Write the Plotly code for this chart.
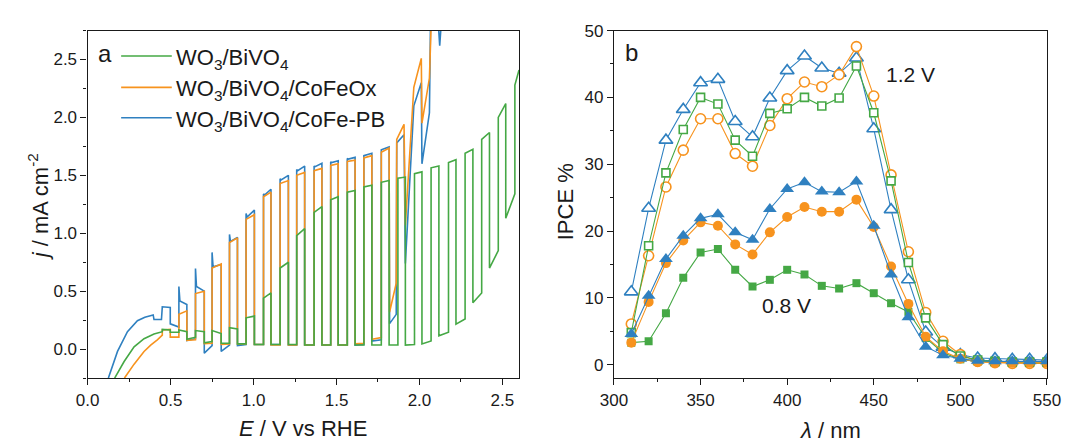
import plotly.graph_objects as go

W, H = 1077, 444

# ---------------- Panel a : chopped LSV ----------------
chop_on = [0.45, 0.55, 0.65, 0.75, 0.855, 0.955, 1.06, 1.16, 1.26, 1.365, 1.465,
           1.565, 1.665, 1.77, 1.87, 1.97, 2.07, 2.175, 2.275, 2.375, 2.475, 2.575]
chop_off = [0.498, 0.598, 0.703, 0.805, 0.903, 1.005, 1.105, 1.21, 1.308, 1.412, 1.51,
            1.612, 1.713, 1.817, 1.915, 2.015, 2.117, 2.22, 2.322, 2.422, 2.52, 2.60]

# WO3/BiVO4
bv_onset_E = [0.163, 0.22, 0.28, 0.34, 0.40, 0.45]
bv_onset_j = [-0.25, -0.107, 0.02, 0.09, 0.13, 0.15]
bv_peak = [0.17, 0.165, 0.16, 0.16, 0.185, 0.27, 0.44, 0.70, 0.98, 1.18, 1.29,
           1.355, 1.40, 1.44, 1.475, 1.515, 1.565, 1.61, 1.69, 1.81, 2.00, 2.28]
bv_light_start = bv_peak
bv_light_end = [0.165, 0.15, 0.15, 0.135, 0.175, 0.285, 0.485, 0.75, 1.04, 1.23, 1.315,
                1.37, 1.415, 1.455, 1.485, 1.53, 1.58, 1.635, 1.725, 1.87, 2.12, 2.41]
bv_dark_start = [0.146, 0.085, 0.055, 0.05, 0.045, 0.04, 0.04, 0.04, 0.035, 0.035, 0.035,
                 0.035, 0.035, 0.035, 0.035, 0.045, 0.115, 0.215, 0.40, 0.70, 1.13]
bv_dark_end = [0.146, 0.103, 0.066, 0.05, 0.045, 0.04, 0.04, 0.04, 0.035, 0.035, 0.035,
               0.035, 0.035, 0.035, 0.04, 0.07, 0.145, 0.26, 0.485, 0.85, 1.34]
bv_tail_E = []
bv_tail_j = []

# WO3/BiVO4/CoFeOx
ox_onset_E = [0.222, 0.28, 0.34, 0.38, 0.42, 0.45]
ox_onset_j = [-0.25, -0.13, -0.02, 0.035, 0.08, 0.12]
ox_peak = [0.165, 0.30, 0.48, 0.70, 0.92, 1.12, 1.315, 1.43, 1.50, 1.54, 1.585, 1.62, 1.65, 1.70]
ox_light_start = ox_peak
ox_light_end = [0.17, 0.33, 0.50, 0.735, 0.96, 1.16, 1.355, 1.455, 1.525, 1.56, 1.60, 1.63, 1.67, 1.735]
ox_dark_start = [0.103, 0.075, 0.047, 0.04, 0.045, 0.04, 0.035, 0.035, 0.035, 0.035, 0.035, 0.045, 0.085]
ox_dark_end = [0.103, 0.08, 0.05, 0.045, 0.045, 0.04, 0.035, 0.035, 0.035, 0.035, 0.035, 0.05, 0.10]
ox_tail_E = [1.82, 1.86, 1.863, 1.907, 1.915, 1.966, 2.011, 2.015, 2.06, 2.075]
ox_tail_j = [0.32, 0.57, 1.81, 1.94, 1.07, 2.26, 2.51, 1.95, 2.34, 3.0]

# WO3/BiVO4/CoFe-PB
pb_onset_E = [0.125, 0.18, 0.24, 0.30, 0.345, 0.395, 0.40, 0.445]
pb_onset_j = [-0.25, -0.02, 0.15, 0.245, 0.275, 0.295, 0.255, 0.255]
pb_peak = [0.365, 0.54, 0.695, 0.835, 0.99, 1.17, 1.34, 1.47, 1.55, 1.58, 1.617, 1.645, 1.67, 1.72]
pb_light_start = [0.365, 0.416, 0.54, 0.71, 0.93, 1.14, 1.33, 1.46, 1.54, 1.575, 1.61, 1.64, 1.67, 1.72]
pb_light_end = [0.36, 0.385, 0.50, 0.73, 0.965, 1.20, 1.38, 1.50, 1.58, 1.605, 1.626, 1.655, 1.69, 1.745]
pb_dark_start = [0.218, 0.075, -0.035, -0.02, 0.03, 0.04, 0.04, 0.035, 0.035, 0.035, 0.035, 0.035, 0.07]
pb_dark_end = [0.19, 0.09, 0.03, 0.035, 0.04, 0.04, 0.04, 0.035, 0.035, 0.035, 0.035, 0.04, 0.08]
pb_tail_E = [1.82, 1.86, 1.863, 1.907, 1.915, 1.966, 2.011, 2.015, 2.06, 2.068, 2.10, 2.122, 2.145]
pb_tail_j = [0.22, 0.30, 1.78, 1.85, 0.74, 2.10, 2.30, 1.60, 2.04, 3.0, 3.1, 2.62, 3.1]

# ---------------- Panel b : IPCE ----------------
wavelength = [310, 320, 330, 340, 350, 360, 370, 380, 390, 400, 410, 420, 430,
              440, 450, 460, 470, 480, 490, 500, 510, 520, 530, 540, 550]
pb_12 = [10.9, 23.4, 33.6, 38.2, 42.2, 42.7, 36.4, 34.1, 39.9, 44.0, 46.2, 44.4, 43.6,
         45.9, 35.3, 23.2, 12.7, 4.9, 2.6, 1.5, 1.0, 0.9, 0.8, 0.8, 0.7]
ox_12 = [6.1, 16.3, 26.6, 32.1, 36.8, 36.8, 31.6, 29.7, 35.8, 39.8, 42.3, 41.6, 43.4,
         47.6, 40.2, 28.4, 16.9, 7.8, 3.5, 1.5, 0.5, 0.3, 0.2, 0.2, 0.2]
bv_12 = [4.8, 17.8, 28.7, 35.2, 40.0, 39.0, 33.6, 31.2, 37.6, 38.3, 40.0, 38.7, 39.9,
         44.7, 37.7, 27.5, 15.3, 7.0, 3.0, 1.3, 0.7, 0.5, 0.4, 0.4, 0.4]
pb_08 = [4.6, 10.3, 15.8, 19.3, 21.9, 22.5, 19.8, 18.7, 23.3, 26.3, 27.3, 25.9, 25.8,
         27.4, 20.8, 13.5, 7.1, 2.7, 1.4, 0.9, 0.6, 0.5, 0.5, 0.5, 0.5]
ox_08 = [3.3, 9.4, 15.2, 18.6, 21.3, 20.8, 18.0, 16.5, 19.8, 22.1, 23.6, 22.9, 22.9,
         24.7, 20.6, 14.7, 9.1, 4.2, 2.0, 0.9, 0.4, 0.3, 0.3, 0.3, 0.3]
bv_08 = [3.3, 3.5, 7.7, 13.0, 16.8, 17.3, 14.2, 11.7, 12.7, 14.2, 13.5, 11.8, 11.4,
         12.2, 10.7, 9.2, 7.9, 4.0, 1.8, 0.8, 0.5, 0.4, 0.4, 0.3, 0.3]

legend_names = ["WO<sub>3</sub>/BiVO<sub>4</sub>",
                "WO<sub>3</sub>/BiVO<sub>4</sub>/CoFeOx",
                "WO<sub>3</sub>/BiVO<sub>4</sub>/CoFe-PB"]

GREEN = "#45a845"
ORANGE = "#f7931e"
BLUE = "#2f80c0"
FONT = "Liberation Sans, Arial, sans-serif"
INK = "#1a1a1a"


def build(onset_E, onset_j, peak, ls, le, ds, de, tail_E, tail_j):
    E = list(onset_E)
    J = list(onset_j)
    for k in range(len(ls)):
        if k > 0:
            E.append(chop_on[k]); J.append(de[k - 1])
        E.append(chop_on[k]); J.append(peak[k])
        if peak[k] != ls[k]:
            E.append(chop_on[k] + 0.006); J.append(ls[k])
        E.append(chop_off[k]); J.append(le[k])
        if k < len(ds):
            E.append(chop_off[k]); J.append(ds[k])
    E += tail_E
    J += tail_j
    return E, J


fig = go.Figure()

pbE, pbJ = build(pb_onset_E, pb_onset_j, pb_peak, pb_light_start, pb_light_end,
                 pb_dark_start, pb_dark_end, pb_tail_E, pb_tail_j)
oxE, oxJ = build(ox_onset_E, ox_onset_j, ox_peak, ox_light_start, ox_light_end,
                 ox_dark_start, ox_dark_end, ox_tail_E, ox_tail_j)
bvE, bvJ = build(bv_onset_E, bv_onset_j, bv_peak, bv_light_start, bv_light_end,
                 bv_dark_start, bv_dark_end, bv_tail_E, bv_tail_j)

for E, J, c, nm in [(pbE, pbJ, BLUE, legend_names[2]),
                    (oxE, oxJ, ORANGE, legend_names[1]),
                    (bvE, bvJ, GREEN, legend_names[0])]:
    fig.add_trace(go.Scatter(x=E, y=J, mode="lines", name=nm,
                             line=dict(color=c, width=1.6),
                             xaxis="x", yaxis="y", showlegend=False))

# IPCE traces
ipce = [
    (pb_12, BLUE, "triangle-up", 12, True, "CoFe-PB 1.2 V"),
    (ox_12, ORANGE, "circle", 10, True, "CoFeOx 1.2 V"),
    (bv_12, GREEN, "square", 8, True, "WO3/BiVO4 1.2 V"),
    (bv_08, GREEN, "square", 8, False, "WO3/BiVO4 0.8 V"),
    (ox_08, ORANGE, "circle", 10, False, "CoFeOx 0.8 V"),
    (pb_08, BLUE, "triangle-up", 12, False, "CoFe-PB 0.8 V"),
]
for vals, c, sym, sz, hollow, nm in ipce:
    fig.add_trace(go.Scatter(
        x=wavelength, y=vals, mode="lines+markers", name=nm,
        line=dict(color=c, width=1.1),
        marker=dict(symbol=sym, size=sz,
                    color="white" if hollow else c,
                    line=dict(color=c, width=1.6 if hollow else 0)),
        xaxis="x2", yaxis="y2", showlegend=False))


def px(x):
    return x / W


def py(y):
    return 1 - y / H


axis_common = dict(showline=True, mirror=True, linecolor=INK, linewidth=1.3,
                   ticks="outside", ticklen=6, tickwidth=1.3, tickcolor=INK,
                   showgrid=False, zeroline=False,
                   tickfont=dict(family=FONT, size=17, color=INK))
minor_common = dict(ticklen=3, tickwidth=1.2, tickcolor=INK, ticks="outside")

fig.update_layout(
    width=W, height=H, margin=dict(l=0, r=0, t=0, b=0),
    paper_bgcolor="white", plot_bgcolor="white",
    xaxis=dict(domain=[px(75.6), px(518.5)], range=[0, 2.6], dtick=0.5, tick0=0,
               tickformat=".1f", anchor="y", minor=dict(dtick=0.25, **minor_common),
               **axis_common),
    yaxis=dict(domain=[py(376.7), py(22)], range=[-0.25, 2.75], dtick=0.5, tick0=0,
               tickformat=".1f", anchor="x", minor=dict(dtick=0.25, **minor_common),
               **axis_common),
    xaxis2=dict(domain=[px(616), px(1060.5)], range=[300, 550], dtick=50, tick0=300,
                anchor="y2", minor=dict(dtick=25, **minor_common),
                **axis_common),
    yaxis2=dict(domain=[py(376.7), py(22)], range=[-2, 50], dtick=10, tick0=0,
                anchor="x2", minor=dict(dtick=5, **minor_common),
                **axis_common),
    showlegend=False,
)

annotations = [
    dict(x=px(297), y=py(428), text="<i>E</i> / V vs RHE", font=dict(size=22)),
    dict(x=px(25), y=py(202), text="<i>j</i> / mA cm<sup>-2</sup>", textangle=-90,
         font=dict(size=22)),
    dict(x=px(838), y=py(430), text="<i>λ</i> / nm", font=dict(size=22)),
    dict(x=px(566), y=py(197), text="IPCE %", textangle=-90, font=dict(size=22)),
    dict(x=px(93), y=py(45), text="a", font=dict(size=24)),
    dict(x=px(634), y=py(44), text="b", font=dict(size=24)),
    dict(x=px(920), y=py(67), text="1.2 V", font=dict(size=21)),
    dict(x=px(793), y=py(303), text="0.8 V", font=dict(size=21)),
]
# legend for panel a
leg_rows = [48, 80, 111]
leg_colors = [GREEN, ORANGE, BLUE]
shapes = []
for name, c, yy in zip(legend_names, leg_colors, leg_rows):
    shapes.append(dict(type="line", xref="paper", yref="paper",
                       x0=px(110), x1=px(162), y0=py(yy), y1=py(yy),
                       line=dict(color=c, width=1.6)))
    annotations.append(dict(x=px(164), y=py(yy + 3), text=name, xanchor="left",
                            font=dict(size=22)))

for a in annotations:
    a.setdefault("xanchor", "center")
    a["yanchor"] = "middle"
    a["xref"] = "paper"
    a["yref"] = "paper"
    a["showarrow"] = False
    a["font"] = dict(family=FONT, color=INK, size=a["font"]["size"])

fig.update_layout(annotations=annotations, shapes=shapes)

fig.write_html("out.html",
               post_script="document.body.style.margin='0';document.body.style.padding='0';")
